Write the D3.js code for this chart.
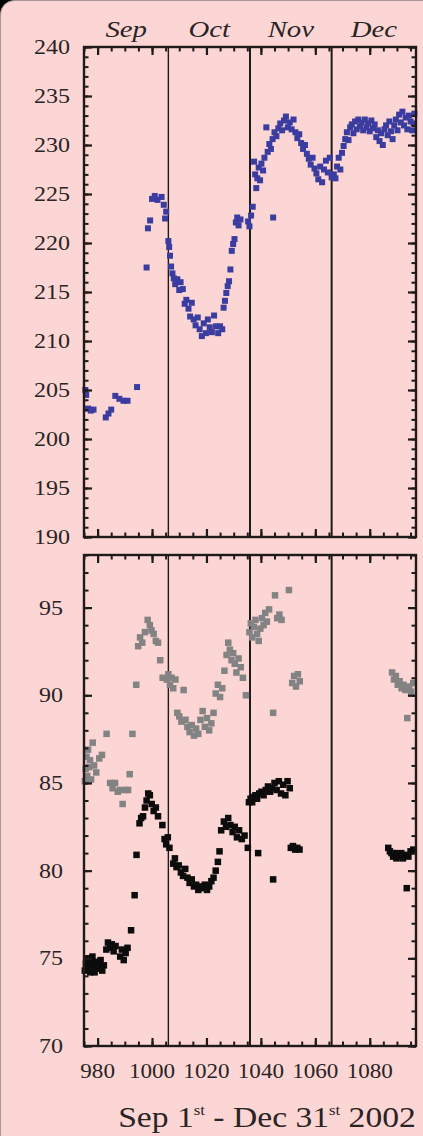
<!DOCTYPE html>
<html>
<head>
<meta charset="utf-8">
<script src="https://cdn.jsdelivr.net/npm/d3@7/dist/d3.min.js"></script>
<style>
  html, body { margin: 0; padding: 0; background: #000; }
  svg { display: block; }
  .axis path, .axis line { stroke: #1e1a1a; }
</style>
</head>
<body>
<svg id="chart"></svg>
<script>
// day numbers along the x axis, Sep 1st - Dec 31st 2002
const dayRange = [975, 1097];
const dayTicks = [980, 1000, 1020, 1040, 1060, 1080];
const monthNames = ["Sep", "Oct", "Nov", "Dec"];
const monthStarts = [975, 1006, 1036, 1066, 1097];

const topTicks = [190, 195, 200, 205, 210, 215, 220, 225, 230, 235, 240];
const bottomTicks = [70, 75, 80, 85, 90, 95];

// top panel (blue)
const blueSeries = [
  [975.5,205.0],[975.8,204.5],[976.5,203.1],[977.5,202.9],[978.5,203.0],[983,202.2],[984,202.6],[985,203.0],
  [986.5,204.4],[988,204.1],[989.5,203.9],[991,203.9],[994.5,205.3],
  [998,217.5],[998.5,221.5],[999.3,222.3],[1000,224.5],[1001,224.8],[1002,224.4],[1003.5,224.7],[1004.3,223.9],
  [1004.8,222.5],[1005.2,223.2],
  [1006,220.2],[1006.3,219.6],[1006.6,218.7],[1007,217.6],[1007.5,216.9],[1008,216.4],[1008.5,215.8],[1009.3,216.3],
  [1010,215.2],[1010.5,216.0],[1011.3,215.3],[1012,213.8],[1012.6,214.2],[1013.4,213.3],[1014,212.5],[1014.6,213.9],
  [1015.3,212.2],[1016,211.6],[1016.8,212.4],[1017.5,211.2],[1018.3,210.5],[1019,211.8],[1019.8,210.8],[1020.5,212.2],
  [1021.2,211.4],[1022,210.9],[1022.8,212.6],[1023.5,211.5],[1024.3,210.8],[1025,211.5],[1025.8,211.2],
  [1026.3,213.4],[1026.8,214.1],[1027.3,214.9],[1027.8,215.6],[1028.3,216.1],[1028.8,217.3],[1029.3,219.2],
  [1029.8,219.9],[1030.3,220.4],[1030.8,222.1],[1031.3,222.6],[1031.8,221.8],[1032.5,222.4],
  [1035.3,222.2],[1035.8,221.7],[1036.4,222.8],[1037,223.7],[1044.5,222.6],
  [1037.5,228.3],[1037.9,227.0],[1038.3,225.6],[1038.7,226.6],[1039.2,227.7],[1039.7,226.4],[1040.2,228.1],
  [1040.8,227.4],[1041.3,228.7],[1042,231.8],[1042.5,229.3],[1043.1,230.1],[1043.7,229.6],[1044.3,230.6],
  [1045,231.3],[1045.7,230.9],[1046.4,231.7],[1047.1,232.2],[1047.8,231.5],[1048.5,232.5],[1049.2,232.9],
  [1049.9,231.8],[1050.6,232.3],[1051.3,231.6],[1052,232.6],[1052.7,231.3],[1053.4,230.7],[1054.1,231.1],
  [1054.8,230.2],[1055.5,229.6],[1056.2,230.0],[1056.9,229.1],[1057.6,228.6],[1058.3,228.0],[1059,228.7],
  [1059.7,227.6],[1060.4,227.1],[1061.1,226.5],[1061.8,227.8],[1062.5,226.2],[1063.2,227.5],[1063.9,228.4],
  [1064.6,227.2],[1065.3,228.7],[1066,226.7],
  [1066.8,227.0],[1067.4,226.6],[1068,227.8],[1068.6,228.7],[1069.2,227.5],[1069.8,229.2],[1070.4,229.9],
  [1071,230.6],[1071.6,231.3],[1072.2,230.5],[1072.8,231.8],[1073.4,232.1],[1074,231.2],[1074.6,232.4],
  [1075.2,231.6],[1075.8,232.6],[1076.4,231.9],[1077,232.3],[1077.6,231.5],[1078.2,232.6],[1078.8,231.8],
  [1079.4,232.2],[1080,231.4],[1080.6,232.5],[1081.2,231.7],[1081.8,232.1],[1082.4,230.8],[1083,231.5],
  [1083.6,230.4],[1084.2,231.2],[1084.8,230.0],[1085.4,231.6],[1086,232.0],[1086.6,231.0],[1087.2,232.4],
  [1087.8,231.4],[1088.4,230.6],[1089,232.0],[1089.6,232.6],[1090.2,231.5],[1090.8,233.1],[1091.4,232.3],
  [1092,233.4],[1092.6,232.0],[1093.2,232.8],[1093.8,231.6],[1094.4,233.0],[1095,232.4],[1095.6,231.5],
  [1096.1,232.2],[1096.4,233.2]
];

// bottom panel, grey series
const greySeries = [
  [975.3,85.1],[975.6,85.8],[975.9,86.5],[976.2,85.4],[976.5,86.9],[976.9,85.9],[977.2,86.3],[977.6,85.2],
  [978.2,87.3],[978.7,86.0],[979.5,85.6],[980.6,86.4],[981.6,86.6],[983.3,87.8],[984.6,85.0],[985.5,84.7],
  [986.4,85.0],[987.4,84.5],[988.2,84.6],[989.2,83.8],[990.2,84.6],[991.2,84.6],[991.8,85.5],[992.8,87.8],
  [994.2,90.6],[994.9,92.8],[995.6,93.3],[996.4,93.0],[997.4,93.6],[998.4,94.3],[999.2,94.0],[999.8,93.7],
  [1000.6,93.5],[1001.4,93.1],[1002.2,93.0],[1003,92.0],[1003.9,91.0],
  [1005.4,90.9],[1006,91.2],[1006.6,90.6],[1007.2,91.0],[1007.8,90.4],[1008.6,90.9],[1009.3,89.0],[1010,88.8],
  [1010.8,88.5],[1011.6,90.3],[1012.3,88.6],[1013,88.2],[1013.8,87.9],[1014.6,88.3],[1015.4,87.7],[1016.2,88.1],
  [1017,87.8],[1017.8,88.6],[1018.6,89.1],[1019.4,88.2],[1020.2,88.7],[1021,88.0],[1021.8,88.4],[1022.6,89.0],
  [1023.4,90.1],[1024.2,90.6],[1025,89.9],[1025.8,90.4],[1026.6,91.4],[1027.4,92.3],[1028,93.0],[1028.6,92.6],
  [1029.2,92.0],[1029.8,92.4],[1030.4,91.8],[1031,91.3],[1031.8,92.1],[1032.6,91.6],[1033.4,91.0],[1034.5,90.0],
  [1035.8,93.6],[1036.3,94.1],[1036.8,93.3],[1037.4,93.9],[1038,94.3],[1038.6,93.5],[1039.2,93.1],[1039.8,93.8],
  [1040.4,94.4],[1041,94.0],[1041.6,94.7],[1042.2,94.2],[1043,94.9],[1044.5,89.0],[1045.2,95.7],[1046,94.4],
  [1046.8,94.6],[1047.6,94.3],[1050.3,96.0],[1051.5,90.7],[1052.2,91.1],[1052.9,90.5],[1053.6,91.2],[1054.3,90.8],
  [1088.2,91.3],[1088.9,90.9],[1089.6,91.1],[1090.3,90.6],[1091,90.8],[1091.7,90.4],[1092.4,90.6],[1093.1,90.3],
  [1093.8,88.7],[1094.5,90.5],[1095.2,90.2],[1096,90.7]
];

// bottom panel, black series
const blackSeries = [
  [975.3,74.3],[975.7,74.7],[976.1,74.4],[976.5,75.0],[976.9,74.6],[977.3,74.2],[977.7,74.8],[978.1,75.1],
  [978.5,74.5],[978.9,74.2],[979.4,74.8],[979.9,74.4],[980.5,74.6],[981.1,74.9],[981.7,74.3],[982.3,74.6],
  [983.2,75.5],[983.8,75.9],[984.5,75.6],[985.2,75.8],[985.9,75.4],[986.6,75.7],[988.3,75.1],[988.9,75.5],
  [989.6,74.9],[990.3,75.3],[991,75.6],[992.3,76.6],[993.6,78.6],[994.3,80.9],[995.4,82.7],[996,83.0],
  [996.7,83.1],[997.4,83.6],[998,84.0],[998.6,84.4],[999.2,84.3],[999.9,83.8],[1000.6,83.4],[1001.4,83.6],
  [1002.2,83.1],[1003.8,82.6],[1004.6,81.8],[1005.2,81.5],[1005.8,81.9],[1006.4,81.3],[1007.8,80.4],[1008.4,80.7],
  [1009,80.2],[1009.8,80.3],[1010.6,79.9],[1011.4,79.7],[1012.2,80.1],[1013,79.6],[1013.8,79.3],[1014.6,79.5],
  [1015.4,79.1],[1016.2,79.2],[1017,78.9],[1017.8,79.1],[1018.6,79.0],[1019.4,79.2],[1020.2,78.9],[1021,79.1],
  [1021.8,79.4],[1022.6,79.6],[1023.4,80.0],[1024.2,80.5],[1024.8,81.1],[1025.4,82.3],[1026.4,82.8],[1027.2,82.5],
  [1028,83.0],[1028.8,82.6],[1029.6,82.2],[1030.4,82.5],[1031.2,81.9],[1032,82.3],[1033,81.8],[1034,82.0],
  [1035.2,81.3],
  [1035.6,83.9],[1036.2,84.1],[1036.8,83.9],[1037.4,84.2],[1038,84.3],[1038.6,84.1],[1039,81.0],[1039.4,84.4],
  [1040.2,84.5],[1041,84.3],[1041.8,84.6],[1042.6,84.8],[1043.4,84.5],[1044.2,84.7],[1044.5,79.5],[1045,85.0],
  [1045.8,84.6],[1046.6,85.1],[1047.4,84.4],[1048.2,84.9],[1049,84.3],[1049.8,85.1],[1050.6,84.7],[1051,81.3],
  [1051.8,81.4],[1052.6,81.2],[1053.4,81.3],[1054.2,81.2],
  [1086.8,81.3],[1087.4,81.1],[1088,81.0],[1088.6,80.8],[1089.2,81.0],[1089.8,80.7],[1090.4,80.9],[1091,80.8],
  [1091.6,81.0],[1092.2,80.7],[1092.8,80.9],[1093.6,79.0],[1094.2,80.8],[1095,81.1],[1096,81.2]
];

const width = 423;
const height = 1136;
const plotLeft = 84, plotRight = 416;
const serif = "'Times New Roman', 'Liberation Serif', Times, serif";
const ink = "#1e1a1a";

const svg = d3.select("#chart")
    .attr("width", width)
    .attr("height", height);

// card background, rounded at the top-left corner
svg.append("rect")
    .attr("x", 0.5).attr("y", 0.5)
    .attr("width", width + 40).attr("height", height + 40)
    .attr("rx", 14)
    .attr("fill", "#fcd6d4")
    .attr("stroke", "#a89a9a")
    .attr("stroke-width", 1);

const xScale = d3.scaleLinear()
    .domain(dayRange)
    .range([plotLeft, plotRight]);

// text stretched a little sideways, as in the scan
function addText(x, y, str, opts) {
    const o = Object.assign({ size: 20, anchor: "middle", italic: false, sx: 1.15 }, opts);
    return svg.append("text")
        .attr("transform", `translate(${x},${y}) scale(${o.sx},1)`)
        .attr("text-anchor", o.anchor)
        .attr("font-family", serif)
        .attr("font-size", o.size)
        .attr("font-style", o.italic ? "italic" : "normal")
        .attr("fill", "#2a2424")
        .text(str);
}

function drawPanel(cfg) {
    const y = d3.scaleLinear()
        .domain(cfg.domain)
        .range([cfg.bottom, cfg.top]);

    const g = svg.append("g");
    const minorX = d3.range(dayRange[0], dayRange[1] + 1, 5);
    const minorY = d3.range(cfg.domain[0], cfg.domain[1] + 1, 1);

    // month separators
    g.selectAll("line.month")
        .data(monthStarts.slice(1, -1))
        .join("line")
        .attr("class", "month")
        .attr("x1", d => xScale(d)).attr("x2", d => xScale(d))
        .attr("y1", cfg.top).attr("y2", cfg.bottom)
        .attr("stroke", ink)
        .attr("stroke-width", (d, i) => i === 0 ? 1.4 : 2);

    // points
    cfg.series.forEach(s => {
        g.append("g").selectAll("rect")
            .data(s.data)
            .join("rect")
            .attr("x", d => xScale(d[0]) - s.size / 2)
            .attr("y", d => y(d[1]) - s.size / 2)
            .attr("width", s.size)
            .attr("height", s.size)
            .attr("fill", s.color);
    });

    // inward ticks on all four sides
    const axes = [
        { axis: d3.axisBottom(xScale), tr: `translate(0,${cfg.bottom})`, major: dayTicks, minor: minorX },
        { axis: d3.axisTop(xScale), tr: `translate(0,${cfg.top})`, major: dayTicks, minor: minorX },
        { axis: d3.axisLeft(y), tr: `translate(${plotLeft},0)`, major: cfg.ticks, minor: minorY },
        { axis: d3.axisRight(y), tr: `translate(${plotRight},0)`, major: cfg.ticks, minor: minorY }
    ];
    axes.forEach(a => {
        g.append("g")
            .attr("class", "axis")
            .attr("transform", a.tr)
            .call(a.axis.tickValues(a.minor).tickSize(-4.5).tickSizeOuter(0).tickFormat(""))
            .call(s => s.select(".domain").remove())
            .selectAll("line").attr("stroke-width", 2);
        g.append("g")
            .attr("class", "axis")
            .attr("transform", a.tr)
            .call(a.axis.tickValues(a.major).tickSize(-8).tickSizeOuter(0).tickFormat(""))
            .call(s => s.select(".domain").remove())
            .selectAll("line").attr("stroke-width", 2.2);
    });

    g.append("rect")
        .attr("x", plotLeft).attr("y", cfg.top)
        .attr("width", plotRight - plotLeft)
        .attr("height", cfg.bottom - cfg.top)
        .attr("fill", "none")
        .attr("stroke", ink)
        .attr("stroke-width", 2.4);

    cfg.ticks.forEach(t => addText(cfg.labelX, y(t) + 7, t, { anchor: "end", size: 20, sx: 1.2 }));
}

drawPanel({
    domain: [190, 240], top: 47, bottom: 537, ticks: topTicks, labelX: 70,
    series: [{ data: blueSeries, color: "#3a3ca0", size: 6 }]
});

drawPanel({
    domain: [70, 98], top: 555, bottom: 1046, ticks: bottomTicks, labelX: 63,
    series: [
        { data: greySeries, color: "#838383", size: 6.5 },
        { data: blackSeries, color: "#0c0c0c", size: 6.5 }
    ]
});

// month names above the top panel
monthNames.forEach((m, i) => {
    const mid = (xScale(monthStarts[i]) + xScale(monthStarts[i + 1])) / 2;
    addText(mid, 37, m, { size: 24, italic: true, sx: 1.2 });
});

// day numbers under the bottom panel
dayTicks.forEach(d => addText(xScale(d), 1078, d, { size: 21, sx: 1.1 }));

// caption
const cap = svg.append("text")
    .attr("transform", "translate(267,1127) scale(1.12,1)")
    .attr("text-anchor", "middle")
    .attr("font-family", serif)
    .attr("font-size", 30)
    .attr("fill", "#2a2424");
cap.append("tspan").text("Sep 1");
cap.append("tspan").attr("font-size", 15).attr("dy", -12).text("st");
cap.append("tspan").attr("dy", 12).text(" - Dec 31");
cap.append("tspan").attr("font-size", 15).attr("dy", -12).text("st");
cap.append("tspan").attr("dy", 12).text(" 2002");
</script>
</body>
</html>
